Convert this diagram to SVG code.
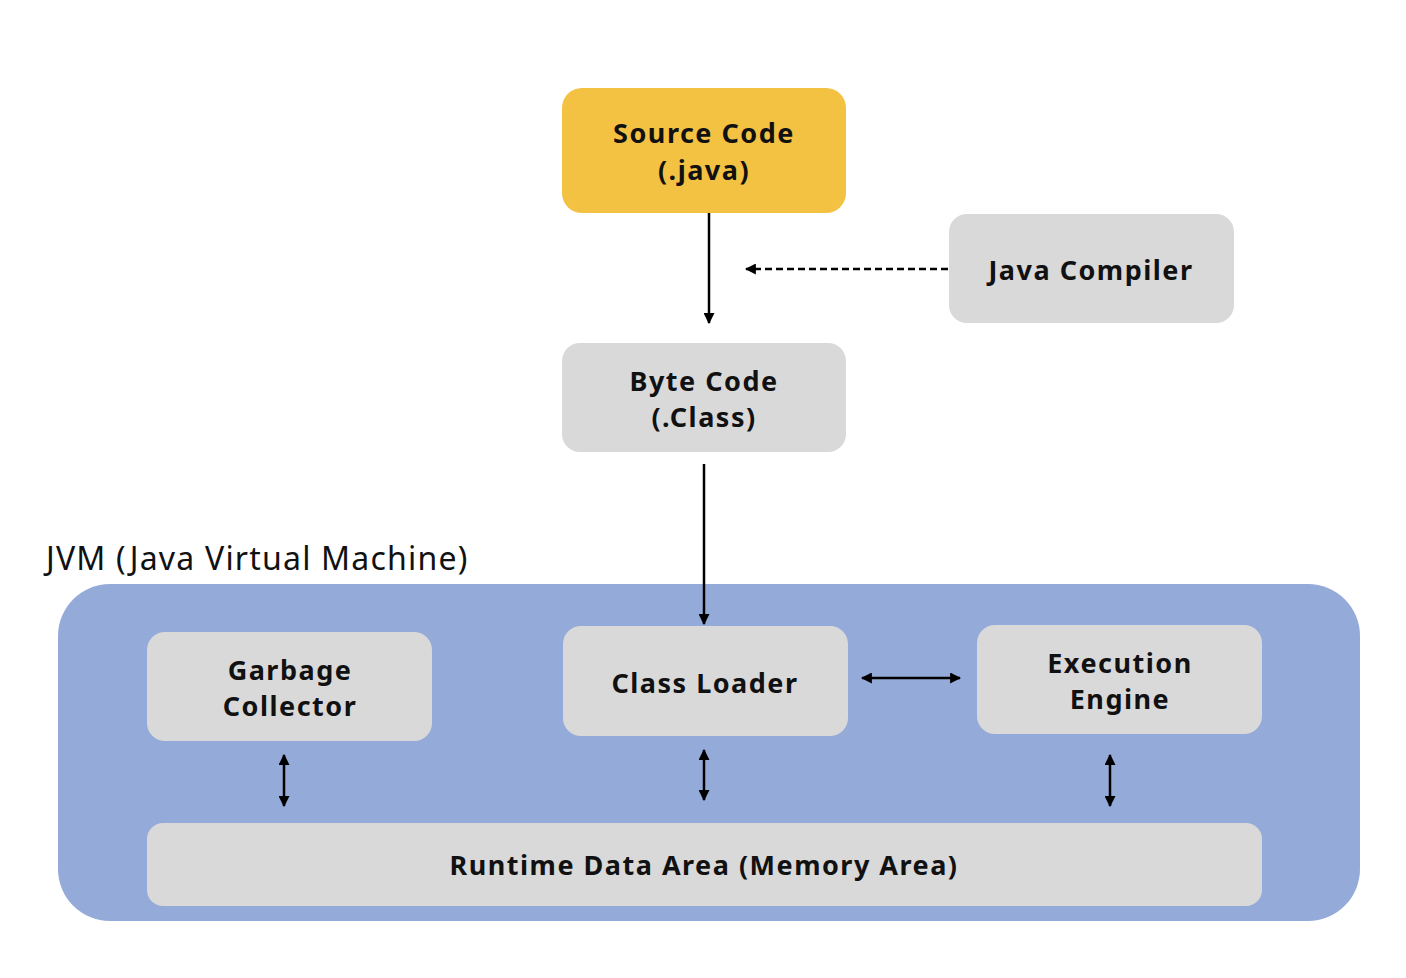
<svg xmlns="http://www.w3.org/2000/svg" width="1406" height="978" viewBox="0 0 1406 978">
<style>
.box{fill:#D9D9D9}
.t{font-family:"Noto Sans","Open Sans","Liberation Sans",sans-serif;font-weight:bold;font-size:27px;letter-spacing:1.5px;fill:#111;text-anchor:middle}
.ln{stroke:#000;stroke-width:2.5;fill:none}
</style>
<defs>
<marker id="ah" viewBox="0 0 10 10" refX="9" refY="5" markerWidth="4.4" markerHeight="4.4" orient="auto-start-reverse" markerUnits="strokeWidth">
<path d="M0,0 L10,5 L0,10 Z" fill="#000"/>
</marker>
</defs>
<rect width="1406" height="978" fill="#fff"/>
<g id="jvm">
<rect x="58" y="584" width="1302" height="337" rx="52" fill="#94AAD9"/>
<text x="46" y="570" font-family="Noto Sans,'Open Sans',sans-serif" font-size="32" letter-spacing="1.2" fill="#111">JVM (Java Virtual Machine)</text>
</g>
<g id="source">
<rect x="562" y="88" width="284" height="125" rx="20" fill="#F4C242"/>
<text class="t" x="704" y="143">Source Code</text>
<text class="t" x="704" y="180">(.java)</text>
</g>
<g id="compiler">
<rect class="box" x="949" y="214" width="285" height="109" rx="18"/>
<text class="t" x="1091" y="280">Java Compiler</text>
</g>
<g id="bytecode">
<rect class="box" x="562" y="343" width="284" height="109" rx="18"/>
<text class="t" x="704" y="391">Byte Code</text>
<text class="t" x="704" y="427">(.Class)</text>
</g>
<g id="gc">
<rect class="box" x="147" y="632" width="285" height="109" rx="18"/>
<text class="t" x="290" y="680">Garbage</text>
<text class="t" x="290" y="716">Collector</text>
</g>
<g id="classloader">
<rect class="box" x="563" y="626" width="285" height="110" rx="18"/>
<text class="t" x="705" y="693">Class Loader</text>
</g>
<g id="exec">
<rect class="box" x="977" y="625" width="285" height="109" rx="18"/>
<text class="t" x="1120" y="673">Execution</text>
<text class="t" x="1120" y="709">Engine</text>
</g>
<g id="runtime">
<rect class="box" x="147" y="823" width="1115" height="83" rx="16"/>
<text class="t" x="704" y="875">Runtime Data Area (Memory Area)</text>
</g>
<g id="connectors">
<line class="ln" x1="709" y1="213" x2="709" y2="323" marker-end="url(#ah)"/>
<line class="ln" x1="948" y1="269" x2="746" y2="269" stroke-dasharray="7,4" marker-end="url(#ah)"/>
<line class="ln" x1="704" y1="464" x2="704" y2="624" marker-end="url(#ah)"/>
<line class="ln" x1="862" y1="678" x2="960" y2="678" marker-start="url(#ah)" marker-end="url(#ah)"/>
<line class="ln" x1="284" y1="755" x2="284" y2="806" marker-start="url(#ah)" marker-end="url(#ah)"/>
<line class="ln" x1="704" y1="750" x2="704" y2="800" marker-start="url(#ah)" marker-end="url(#ah)"/>
<line class="ln" x1="1110" y1="755" x2="1110" y2="806" marker-start="url(#ah)" marker-end="url(#ah)"/>
</g>
</svg>
